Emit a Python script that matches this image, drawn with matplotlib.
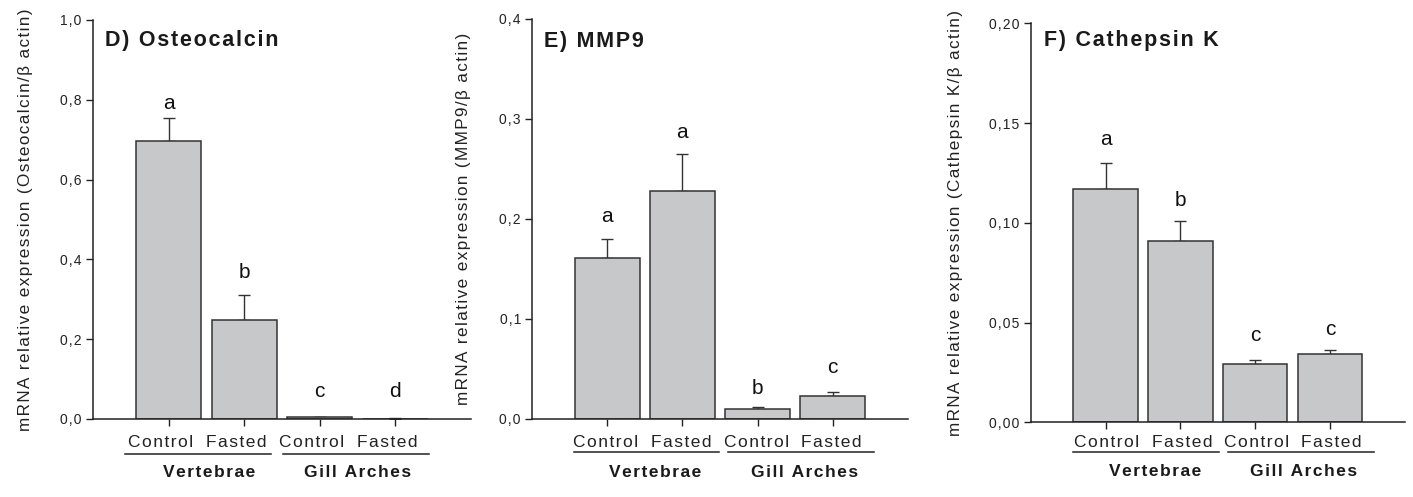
import matplotlib
matplotlib.use("Agg")
import matplotlib.pyplot as plt
from matplotlib.ticker import FuncFormatter
from matplotlib.transforms import blended_transform_factory

plt.rcParams["font.family"] = ["Liberation Sans", "DejaVu Sans"]

conditions = ["Control", "Fasted", "Control", "Fasted"]
tissues = ["Vertebrae", "Gill Arches"]

titles = ["D) Osteocalcin", "E) MMP9", "F) Cathepsin K"]
ylabels = [
    "mRNA relative expression (Osteocalcin/\u03b2 actin)",
    "mRNA relative expression (MMP9/\u03b2 actin)",
    "mRNA relative expression (Cathepsin K/\u03b2 actin)",
]

osteocalcin = [0.697, 0.249, 0.004, 0.001]
osteocalcin_err = [0.057, 0.062, 0.001, 0.001]
osteocalcin_sig = ["a", "b", "c", "d"]
osteocalcin_sig_y = [0.79, 0.366, 0.068, 0.068]

mmp9 = [0.161, 0.228, 0.0103, 0.0233]
mmp9_err = [0.019, 0.037, 0.0017, 0.0037]
mmp9_sig = ["a", "a", "b", "c"]
mmp9_sig_y = [0.202, 0.286, 0.030, 0.051]

cathepsin = [0.117, 0.0907, 0.0292, 0.0342]
cathepsin_err = [0.013, 0.0102, 0.002, 0.002]
cathepsin_sig = ["a", "b", "c", "c"]
cathepsin_sig_y = [0.142, 0.111, 0.0437, 0.0467]

ymax = [1.0, 0.4, 0.2]
ystep = [0.2, 0.1, 0.05]
ydec = [1, 1, 2]

BAR_FILL = "#c7c8ca"
EDGE = "#333333"


def spaced(s):
    # the original figure uses letter-spaced type
    return "\u200a".join(s)


# panel layout (figure fractions) and label placement tweaks
axes_rects = [
    [0.0658, 0.157, 0.2675, 0.803],
    [0.3765, 0.157, 0.2661, 0.805],
    [0.7294, 0.150, 0.2649, 0.803],
]
ylabel_x = [-0.159, -0.162, -0.181]
title_xy = [(0.032, 0.948), (0.032, 0.943), (0.036, 0.956)]
cond_shift = [-0.11, -0.02, 0.02]
group_lines = [[(-0.57, 1.35), (1.52, 3.44)],
               [(-0.44, 1.49), (1.61, 3.55)],
               [(-0.43, 1.51), (1.64, 3.59)]]
group_x = [[0.53, 2.5], [0.64, 2.62], [0.66, 2.65]]
below = [(-0.060, -0.088, -0.135), (-0.060, -0.083, -0.135), (-0.050, -0.074, -0.124)]

values = [osteocalcin, mmp9, cathepsin]
errors = [osteocalcin_err, mmp9_err, cathepsin_err]
sigs = [osteocalcin_sig, mmp9_sig, cathepsin_sig]
sig_ys = [osteocalcin_sig_y, mmp9_sig_y, cathepsin_sig_y]

fig = plt.figure(figsize=(14.13, 4.97), dpi=100)

for k in range(3):
    ax = fig.add_axes(axes_rects[k])
    x = list(range(len(conditions)))
    ax.bar(x, values[k], width=0.86, color=BAR_FILL, edgecolor=EDGE,
           linewidth=1.1, zorder=2)
    ax.errorbar(x, values[k], yerr=[[0] * 4, errors[k]], fmt="none",
                ecolor=EDGE, elinewidth=1.0, capsize=4.5, capthick=1.0, zorder=1)
    for xi, s, sy in zip(x, sigs[k], sig_ys[k]):
        ax.text(xi, sy, s, ha="center", va="center", fontsize=15, color="#111111")

    ax.set_xlim(-1, 4)
    ax.set_ylim(0, ymax[k])
    n = int(round(ymax[k] / ystep[k]))
    ax.set_yticks([i * ystep[k] for i in range(n + 1)])
    dec = ydec[k]
    ax.yaxis.set_major_formatter(
        FuncFormatter(lambda v, p, d=dec: spaced(f"{v:.{d}f}".replace(".", ","))))
    ax.set_xticks(x)
    ax.set_xticklabels([])

    for side in ["top", "right"]:
        ax.spines[side].set_visible(False)
    for side in ["left", "bottom"]:
        ax.spines[side].set_linewidth(1.1)
        ax.spines[side].set_color("#222222")
    ax.tick_params(axis="y", direction="out", length=5, width=1.0, labelsize=10,
                   colors="#222222", pad=3)
    ax.tick_params(axis="x", direction="out", length=5, width=1.0, colors="#222222")

    ax.set_ylabel(spaced(ylabels[k]), fontsize=12.3, color="#222222")
    ax.yaxis.set_label_coords(ylabel_x[k], 0.5)

    ax.text(title_xy[k][0], title_xy[k][1], spaced(titles[k]), transform=ax.transAxes,
            fontsize=15.5, fontweight="bold", ha="left", va="center", color="#1a1a1a")

    trans = blended_transform_factory(ax.transData, ax.transAxes)
    y_cond, y_line, y_group = below[k]
    for xi, c in zip(x, conditions):
        ax.text(xi + cond_shift[k], y_cond, spaced(c), transform=trans, ha="center",
                va="center", fontsize=12.5, color="#222222", clip_on=False)
    for (x0, x1) in group_lines[k]:
        ax.plot([x0, x1], [y_line, y_line], transform=trans, color="#222222",
                linewidth=1.1, clip_on=False)
    for gx, t in zip(group_x[k], tissues):
        ax.text(gx, y_group, spaced(t), transform=trans, ha="center", va="center",
                fontsize=12.5, fontweight="bold", color="#1a1a1a", clip_on=False)

fig.savefig("out.png", dpi=100)
